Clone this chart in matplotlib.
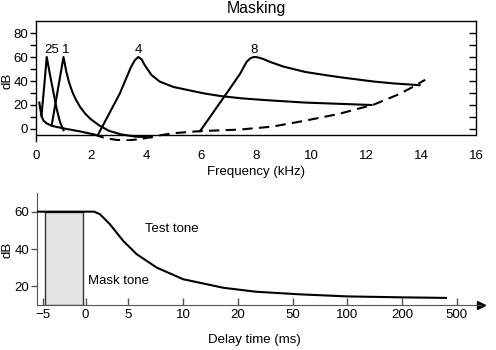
#!/usr/bin/env python3
'''
Two-panel masking figure: frequency masking curves (top) and
temporal masking after a mask tone (bottom).
'''

import numpy as np
import matplotlib
matplotlib.use("Agg")
import matplotlib.pyplot as plt
from matplotlib.patches import Rectangle

plt.rcParams['font.family'] = ['Liberation Sans', 'DejaVu Sans']
plt.rcParams['font.size'] = 9.5

#-------------
#top panel data (kHz, dB)
#-------------
quiet_solid_khz = [0.12, 0.2, 0.27, 0.4, 0.6, 1.0, 1.6, 2.1]
quiet_solid_db  = [22, 11, 7, 4.5, 2.5, 0.5, -2, -4.5]

quiet_dash_khz = [2.1, 2.5, 2.9, 3.3, 3.8, 4.3, 5.0, 6.0, 7.4, 8.6, 9.8, 11.0, 12.3, 13.2, 13.7, 14.15]
quiet_dash_db  = [-4.5, -7.5, -9, -9.5, -8.5, -6, -3.5, -1.7, -0.5, 2, 7, 12.5, 20.5, 29, 35, 41]

mask025_khz = [0.2, 0.3, 0.39, 0.51, 0.63, 0.75, 0.87, 1.0]
mask025_db  = [11, 36, 60, 45, 31, 17, 6, -1]

mask1_khz = [0.57, 1.0, 1.1, 1.2, 1.32, 1.45, 1.6, 1.8, 2.0, 2.3, 2.65, 3.1, 3.6, 4.2]
mask1_db  = [3, 60, 48, 39, 31, 24.5, 18.5, 12.5, 8, 3, -1.5, -4.5, -6.3, -7]

mask4_khz = [2.25, 3.05, 3.45, 3.6, 3.72, 3.84, 3.96, 4.2, 4.5, 5.0, 6.1, 6.7, 7.5, 8.4, 9.8, 11.0, 12.2]
mask4_db  = [-5, 29.7, 51.5, 57.5, 60, 58, 53, 45, 39.5, 35, 29.7, 27.5, 25.5, 24, 22, 21, 20]

mask8_khz = [5.96, 7.0, 7.42, 7.66, 7.8, 7.92, 8.05, 8.27, 8.5, 9.0, 9.8, 10.5, 11.1, 12.3, 13.0, 13.95]
mask8_db  = [-2, 32, 46, 56, 59, 60, 59.8, 58.3, 56, 52, 47.5, 45, 43, 39.5, 38, 36.5]

peak_labels = ['25', '1', '4', '8']
peak_label_khz = [0.58, 1.07, 3.71, 7.93]

freq_ticks = [0, 2, 4, 6, 8, 10, 12, 14, 16]

#-------------
#bottom panel data (ms, dB)
#-------------
delay_ticks = [-5, 0, 5, 10, 20, 50, 100, 200, 500]
delay_tick_labels = ['\u22125', '0', '5', '10', '20', '50', '100', '200', '500']

test_ms = [-5.7, 1.0, 1.68, 2.85, 4.4, 5.76, 7.6, 10, 17.4, 30, 57, 100, 200, 440]
test_db = [60, 60, 58.6, 53.2, 44.3, 37.2, 30, 23.8, 19.2, 17.1, 15.7, 14.6, 14.1, 13.8]

mask_start_ms, mask_end_ms = -4.8, -0.3
mask_level_db = 60

#delay axis is not linear: -5..5 evenly, then one step per tick
delay_map_ms  = [-100, -5, 0, 5, 10, 20, 50, 100, 200, 500, 1000]
delay_map_pos = [-15.6, -0.78, 0, 0.78, 1.78, 2.78, 3.78, 4.78, 5.78, 6.78, 7.78]


def delay_fwd(t):
    return np.interp(t, delay_map_ms, delay_map_pos)


def delay_inv(p):
    return np.interp(p, delay_map_pos, delay_map_ms)


fig = plt.figure(figsize=(4.96, 3.5), dpi=100)

#-------
#top: frequency masking
#-------
ax = fig.add_axes([36/496, 1 - 141/350, 440/496, 120/350])
ax.set_xlim(0, 16)
ax.set_ylim(-10, 90)

lw = 1.5
ax.plot(quiet_solid_khz, quiet_solid_db, color='black', lw=lw)
ax.plot(quiet_dash_khz, quiet_dash_db, color='black', lw=lw, ls=(0, (5, 3)))
for xs, ys in [(mask025_khz, mask025_db), (mask1_khz, mask1_db),
               (mask4_khz, mask4_db), (mask8_khz, mask8_db)]:
    ax.plot(xs, ys, color='black', lw=lw, solid_joinstyle='round')

for lab, x in zip(peak_labels, peak_label_khz):
    ax.text(x, 66, lab, ha='center', va='center')

ax.axhline(-5, color='black', lw=1.0)
ax.spines['bottom'].set_visible(False)
ax.spines['right'].set_bounds(-5, 90)
for s in ['left', 'top', 'right']:
    ax.spines[s].set_linewidth(1.0)

ax.set_xticks(freq_ticks)
ax.set_xticks([2, 4, 6, 8, 10, 12, 14], minor=True)
ax.tick_params(axis='x', which='major', bottom=False, top=False, labelbottom=True, pad=3)
ax.tick_params(axis='x', which='minor', bottom=False, top=True, direction='in', length=5, width=1)

ax.set_yticks([0, 20, 40, 60, 80])
ax.set_yticks(np.arange(0, 90, 10), minor=True)
ax.tick_params(axis='y', which='both', direction='out', length=4, width=1, pad=1.5)

#right spine ticks point inward
sec = ax.secondary_yaxis('right')
sec.set_yticks(np.arange(0, 90, 10))
sec.tick_params(direction='in', length=5, width=1, labelright=False)
sec.spines['right'].set_visible(False)

ax.set_xlabel('Frequency (kHz)')
ax.xaxis.set_label_coords(0.5, -0.21)
ax.set_ylabel('dB')
ax.yaxis.set_label_coords(-0.051, 0.5)
ax.set_title('Masking', pad=6)

#-------
#bottom: temporal masking
#-------
bx = fig.add_axes([37/496, 1 - 305/350, 444/496, 112/350])
bx.set_xscale('function', functions=(delay_fwd, delay_inv))
bx.set_xlim(-5.7, 720)
bx.set_ylim(10, 70)

bx.add_patch(Rectangle((mask_start_ms, 10), mask_end_ms - mask_start_ms, mask_level_db - 10,
                       facecolor='#e4e4e4', edgecolor='#333333', lw=1.0, zorder=1))
bx.plot(test_ms, test_db, color='black', lw=lw, zorder=3)

bx.text(6.5, 50.7, 'Test tone', ha='left', va='center')
bx.text(0.3, 22.8, 'Mask tone', ha='left', va='center')

bx.spines['top'].set_visible(False)
bx.spines['right'].set_visible(False)
bx.spines['bottom'].set_color('#555555')
bx.spines['left'].set_color('#555555')
bx.plot(1, 0, '>', color='black', ms=6, transform=bx.transAxes, clip_on=False)

bx.set_xticks(delay_ticks)
bx.set_xticklabels(delay_tick_labels)
bx.minorticks_off()
bx.tick_params(axis='x', direction='in', length=5, width=1, color='#555555', pad=3)
bx.set_yticks([20, 40, 60])
bx.tick_params(axis='y', direction='out', length=4, width=1, color='#555555', pad=1.5)

bx.set_xlabel('Delay time (ms)')
bx.xaxis.set_label_coords(0.49, -0.26)
bx.set_ylabel('dB')
bx.yaxis.set_label_coords(-0.052, 0.49)

fig.savefig('out.png', dpi=100)
